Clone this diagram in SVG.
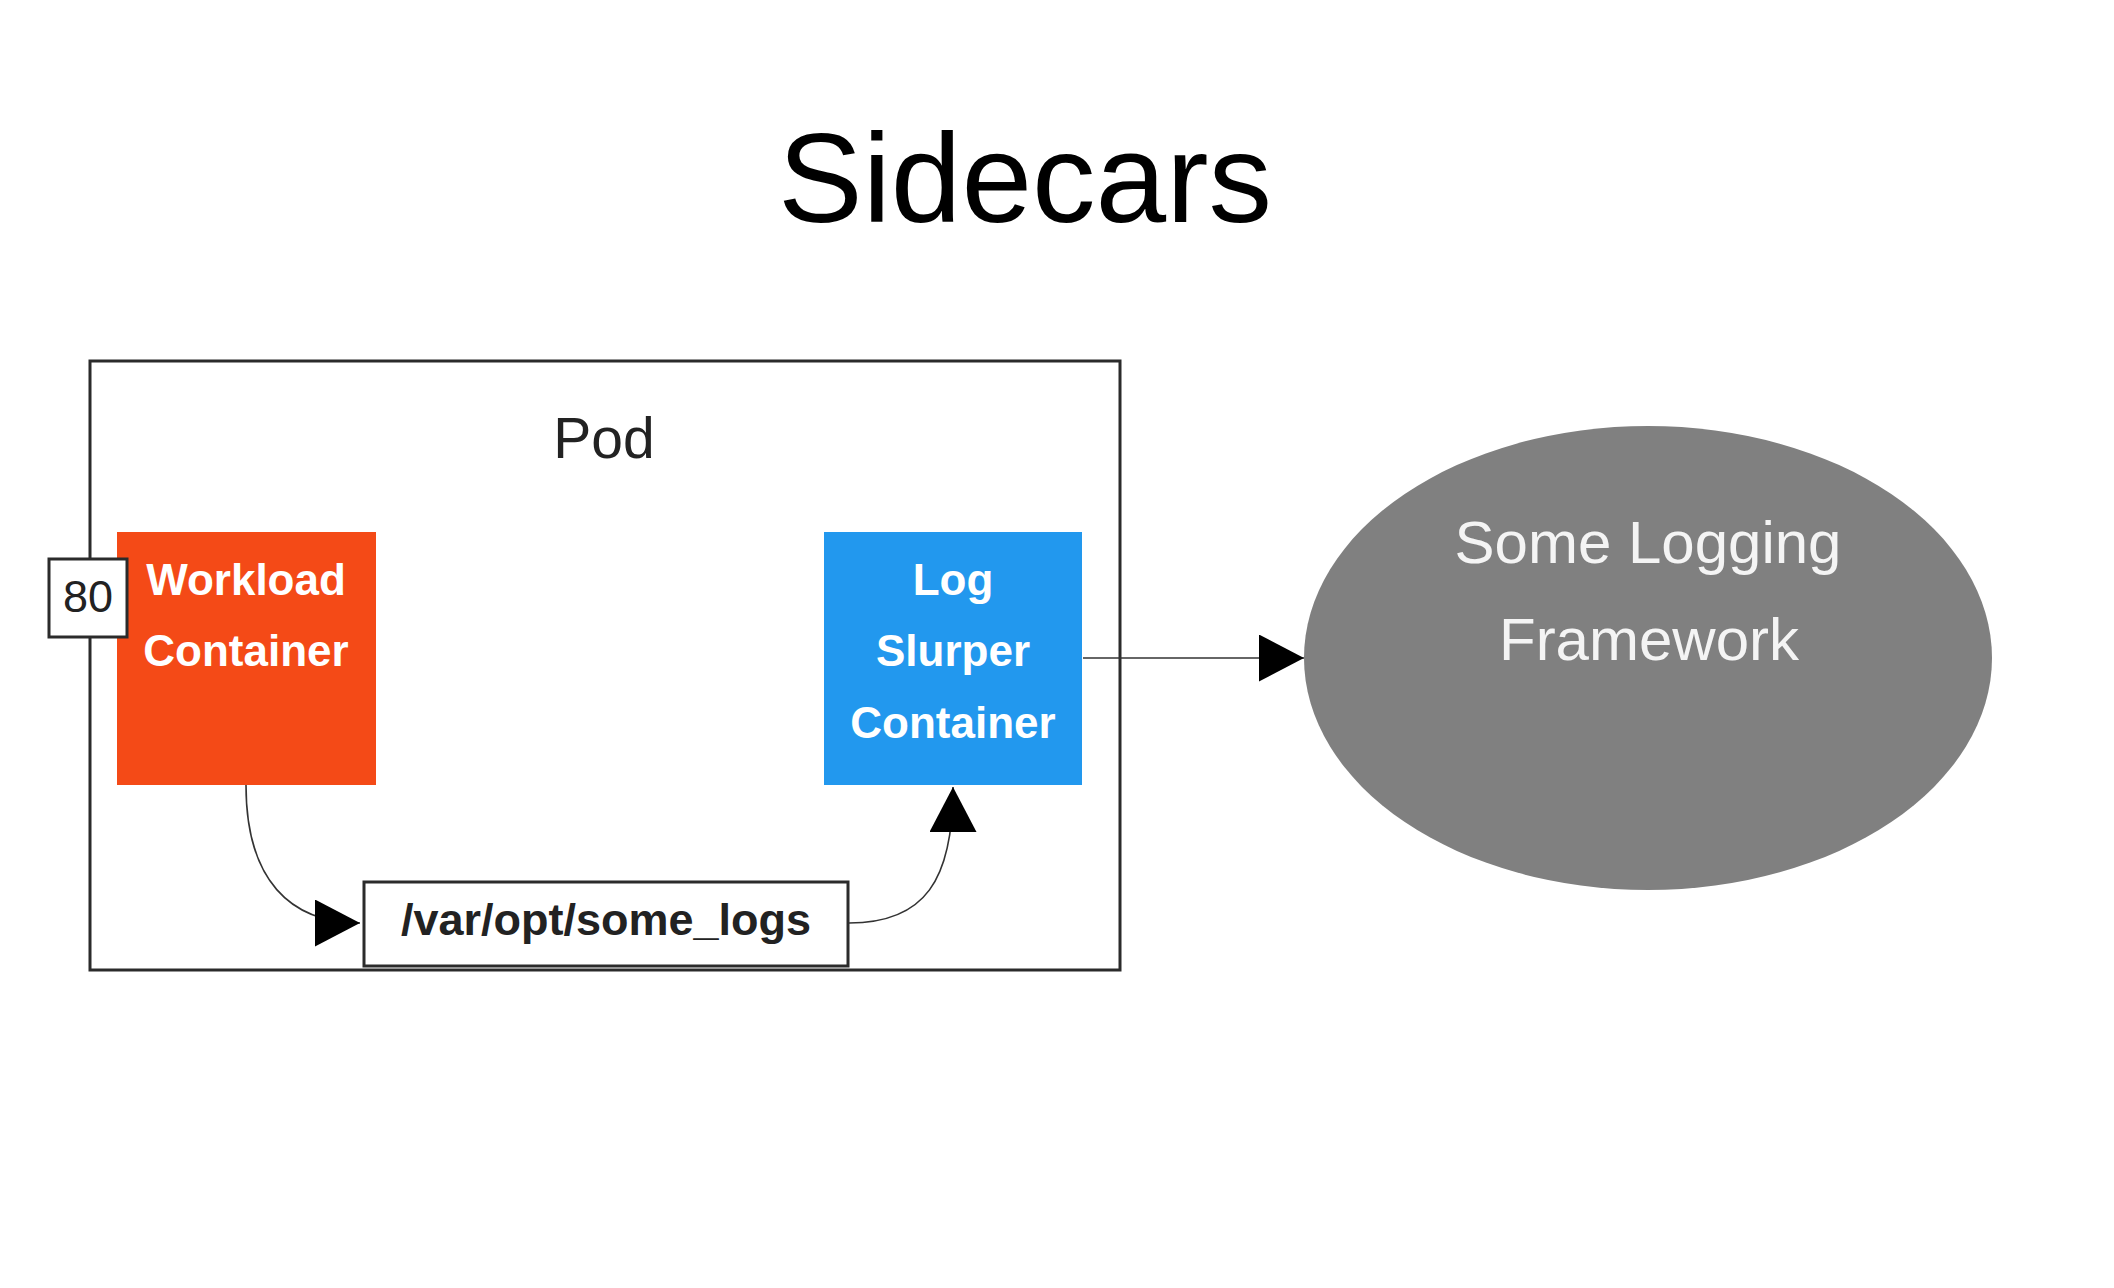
<svg xmlns="http://www.w3.org/2000/svg" width="2114" height="1288" viewBox="0 0 2114 1288">
<style>
.t{font-family:"Liberation Sans",Arial,sans-serif}
.w{fill:#ffffff;font-weight:bold;font-size:44px;text-anchor:middle}
.box{stroke:#2b2b2b;stroke-width:3;fill:#ffffff}
.conn{fill:none;stroke:#333333;stroke-width:1.6}
</style>
<defs>
<marker id="ah" markerUnits="userSpaceOnUse" markerWidth="46" markerHeight="48" refX="45" refY="23.5" orient="auto">
<path d="M0,0 L45,23.5 L0,47 Z" fill="#000000"/>
</marker>
</defs>
<rect width="2114" height="1288" fill="#ffffff"/>
<text class="t" x="1025" y="222" font-size="127" text-anchor="middle" fill="#000000">Sidecars</text>
<g id="pod">
<rect class="box" x="90" y="361" width="1030" height="609"/>
<text class="t" x="604" y="458" font-size="57" text-anchor="middle" fill="#222222">Pod</text>
</g>
<g id="workload">
<rect x="117" y="532" width="259" height="253" fill="#F44A17"/>
<text class="t w" x="246" y="595">Workload</text>
<text class="t w" x="246" y="666">Container</text>
</g>
<g id="port80">
<rect class="box" x="49" y="559" width="78" height="78"/>
<text class="t" x="88" y="612" font-size="45" text-anchor="middle" fill="#222222">80</text>
</g>
<g id="slurper">
<rect x="824" y="532" width="258" height="253" fill="#2298EE"/>
<text class="t w" x="953" y="595">Log</text>
<text class="t w" x="953" y="666">Slurper</text>
<text class="t w" x="953" y="738">Container</text>
</g>
<g id="logs">
<rect class="box" x="364" y="882" width="484" height="84"/>
<text class="t" x="606" y="935" font-size="45" font-weight="bold" text-anchor="middle" fill="#222222">/var/opt/some_logs</text>
</g>
<g id="framework">
<ellipse cx="1648" cy="658" rx="344" ry="232" fill="#808080"/>
<text class="t" x="1648" y="563" font-size="60" text-anchor="middle" fill="#f4f4f4">Some Logging</text>
<text class="t" x="1649" y="660" font-size="60" text-anchor="middle" fill="#f4f4f4">Framework</text>
</g>
<g id="connectors">
<path class="conn" d="M246,785 C246,880 290,923 360,923" marker-end="url(#ah)"/>
<path class="conn" d="M849,923 C925,923 953,880 953,787" marker-end="url(#ah)"/>
<path class="conn" d="M1083,658 L1304,658" stroke="#555555" stroke-width="2" marker-end="url(#ah)"/>
</g>
</svg>
